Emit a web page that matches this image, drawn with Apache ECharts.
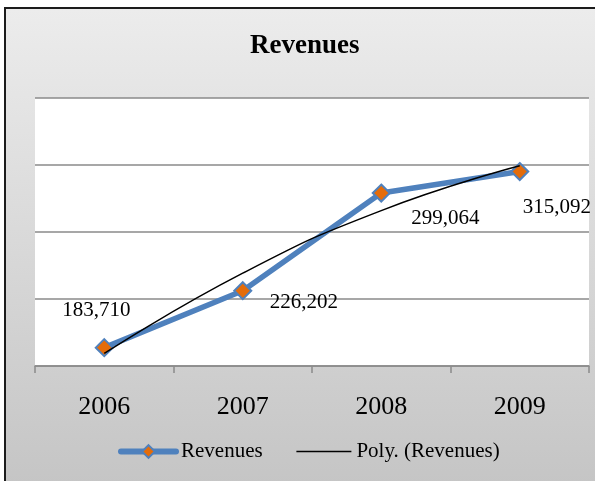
<!DOCTYPE html>
<html>
<head>
<meta charset="utf-8">
<script src="https://cdn.jsdelivr.net/npm/echarts@6/dist/echarts.min.js"></script>
<style>
html, body { margin: 0; background: #fff; overflow: hidden; width: 595px; height: 481px; }
#frame {
    position: absolute; left: 4px; top: 7px; width: 620px; height: 500px;
    border-left: 2px solid #1c1c1c; border-top: 2px solid #1c1c1c;
    background: linear-gradient(to bottom, #ececec 0%, #c3c3c3 100%);
}
#main { position: absolute; left: 0; top: 0; width: 595px; height: 481px; }
</style>
</head>
<body>
<div id="frame"></div>
<div id="main"></div>
<script>
// chart data
var years = ['2006', '2007', '2008', '2009'];
var revenues = [183710, 226202, 299064, 315092];
var polyTrend = [179350, 239280, 285980, 319450];

var serif = "'Liberation Serif', 'Times New Roman', serif";

// label placement per point (style only)
var labelOffsets = [[-8, -37], [61, 12], [64, 25], [37, 36]];

var revData = revenues.map(function (v, i) {
    return {
        value: v,
        label: { offset: labelOffsets[i] }
    };
});

var myChart = echarts.init(document.getElementById('main'));// 初始化echarts实例

var option = {
    backgroundColor: 'transparent',
    animation: false,
    title: {
        text: 'Revenues',
        left: 245, top: 28,
        textStyle: { fontFamily: serif, fontSize: 27, fontWeight: 'bold', color: '#000' }
    },
    grid: {
        left: 35, right: 6, top: 98, bottom: 115,
        show: true, backgroundColor: '#fff', borderWidth: 0
    },
    legend: {
        left: 118, top: 441,
        padding: 0,
        itemWidth: 55, itemHeight: 16, itemGap: 33,
        textStyle: { fontFamily: serif, fontSize: 21, color: '#000' },
        data: [
            { name: 'Revenues', lineStyle: { width: 6, cap: 'round' } },
            { name: 'Poly. (Revenues)', itemStyle: { opacity: 0 }, lineStyle: { width: 1.5 } }
        ]
    },
    xAxis: {
        type: 'category',
        data: years,
        boundaryGap: true,
        axisLine: { lineStyle: { color: '#8a8a8a', width: 1.5 } },
        axisTick: { show: true, length: 7, lineStyle: { color: '#8a8a8a', width: 1.5 } },
        axisLabel: { fontFamily: serif, fontSize: 26, color: '#000', margin: 28 }
    },
    yAxis: {
        type: 'value',
        min: 170000, max: 370000, interval: 50000,
        axisLine: { show: false },
        axisTick: { show: false },
        axisLabel: { show: false },
        splitLine: { lineStyle: { color: '#8a8a8a', width: 1.5 } }
    },
    series: [
        {
            name: 'Revenues',
            type: 'line',
            data: revData,
            z: 2,
            symbol: 'diamond',
            symbolSize: 17,
            lineStyle: { color: '#4f81bd', width: 5.5 },
            itemStyle: { color: '#e46c0a', borderColor: '#4f81bd', borderWidth: 2 },
            label: {
                show: true,
                position: 'inside',
                fontFamily: serif, fontSize: 21, color: '#000',
                formatter: function (p) { return p.value.toLocaleString('en-US'); }
            }
        },
        {
            name: 'Poly. (Revenues)',
            type: 'line',
            data: polyTrend,
            z: 3,
            smooth: true,
            symbol: 'none',
            lineStyle: { color: '#000', width: 1.5 },
            itemStyle: { color: '#000' }
        }
    ]
};

myChart.setOption(option);
</script>
</body>
</html>
